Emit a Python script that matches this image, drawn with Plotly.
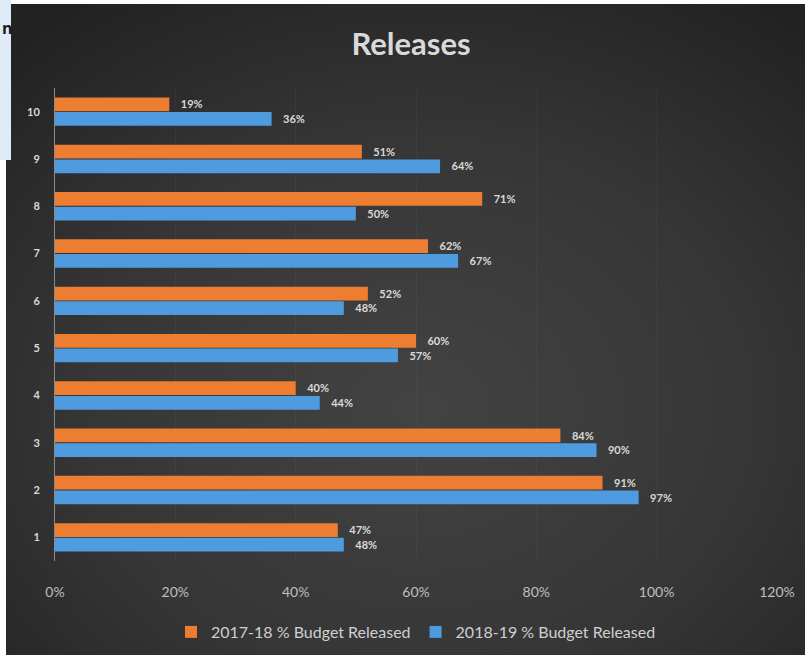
import base64
import plotly.graph_objects as go

categories = ["1", "2", "3", "4", "5", "6", "7", "8", "9", "10"]
released_2017_18 = [47, 91, 84, 40, 60, 52, 62, 71, 51, 19]
released_2018_19 = [48, 97, 90, 44, 57, 48, 67, 50, 64, 36]
x_ticks = [0, 20, 40, 60, 80, 100, 120]
x_tick_labels = ["0%", "20%", "40%", "60%", "80%", "100%", "120%"]

W, H = 805, 660
ORANGE = "#ED7D31"
BLUE = "#4F9BE0"
TXT = "#d9d9d9"
FONT = "Lato"

def px(x):
    return x / W

def py(y):
    return 1 - y / H

svg = f'''<svg xmlns="http://www.w3.org/2000/svg" width="799" height="651" viewBox="0 0 799 651" preserveAspectRatio="none">
<defs><radialGradient id="g" cx="0.52" cy="0.62" r="0.75" fx="0.52" fy="0.62">
<stop offset="0" stop-color="#434343"/><stop offset="0.55" stop-color="#363636"/><stop offset="1" stop-color="#222222"/>
</radialGradient></defs><rect width="799" height="651" fill="url(#g)"/></svg>'''
src = "data:image/svg+xml;base64," + base64.b64encode(svg.encode()).decode()

ynum = [int(c) for c in categories]
pad = "\u00a0\u00a0\u00a0"

fig = go.Figure()
fig.add_trace(go.Bar(
    y=ynum, x=released_2018_19, orientation="h", name="2018-19 % Budget Released",
    marker=dict(color=BLUE, line=dict(width=0)),
    text=[f"{pad}<b>{v}%</b>" for v in released_2018_19], textposition="outside",
    textfont=dict(color=TXT, size=12, family=FONT), cliponaxis=False, legendrank=2,
))
fig.add_trace(go.Bar(
    y=ynum, x=released_2017_18, orientation="h", name="2017-18 % Budget Released",
    marker=dict(color=ORANGE, line=dict(width=0)),
    text=[f"{pad}<b>{v}%</b>" for v in released_2017_18], textposition="outside",
    textfont=dict(color=TXT, size=12, family=FONT), cliponaxis=False, legendrank=1,
))

fig.update_layout(
    width=W, height=H,
    template="none",
    paper_bgcolor="white", plot_bgcolor="rgba(0,0,0,0)",
    margin=dict(l=0, r=0, t=0, b=0),
    barmode="group", bargap=0.38, bargroupgap=0.06,
    font=dict(family=FONT, color=TXT),
    title=dict(text="<b>Releases</b>", x=px(411), y=py(44), xanchor="center", yanchor="middle",
               font=dict(size=31, color=TXT, family=FONT)),
    xaxis=dict(domain=[px(55), px(777)], range=[0, 120], tickvals=x_ticks, ticktext=x_tick_labels,
               showgrid=True, gridcolor="rgba(255,255,255,0.03)", zeroline=False, showline=False,
               ticks="", tickfont=dict(size=14, color="#bfbfbf", family=FONT), ticklabelstandoff=21,
               automargin=False, fixedrange=True),
    yaxis=dict(domain=[py(561), py(88)], range=[0.5, 10.5], type="linear",
               tickvals=ynum, ticktext=[f"<b>{c}</b>" for c in categories],
               showgrid=False, zeroline=False, showline=True, linecolor="#8a8a8a", linewidth=1,
               ticks="", tickfont=dict(size=11, color=TXT, family=FONT), ticklabelstandoff=12,
               automargin=False, fixedrange=True),
    legend=dict(orientation="h", x=px(416), y=py(632), xanchor="center", yanchor="middle",
                font=dict(size=16, color="#cfcfcf", family=FONT), bgcolor="rgba(0,0,0,0)",
                itemwidth=30, traceorder="normal"),
    showlegend=True,
    images=[dict(source=src, xref="paper", yref="paper", x=px(6), y=py(4),
                 sizex=px(805 - 6), sizey=(655 - 4) / H, sizing="stretch", layer="below",
                 xanchor="left", yanchor="top")],
    shapes=[dict(type="rect", xref="paper", yref="paper", x0=0, x1=px(11), y0=py(160), y1=1,
                 fillcolor="#deebf7", line=dict(width=0), layer="above")],
    annotations=[dict(text="<b>n</b>", xref="paper", yref="paper", x=0, y=py(28),
                      xanchor="left", yanchor="middle", showarrow=False,
                      font=dict(size=16, color="#1a1a1a", family="Open Sans"))],
)

fig.write_html("out.html")
